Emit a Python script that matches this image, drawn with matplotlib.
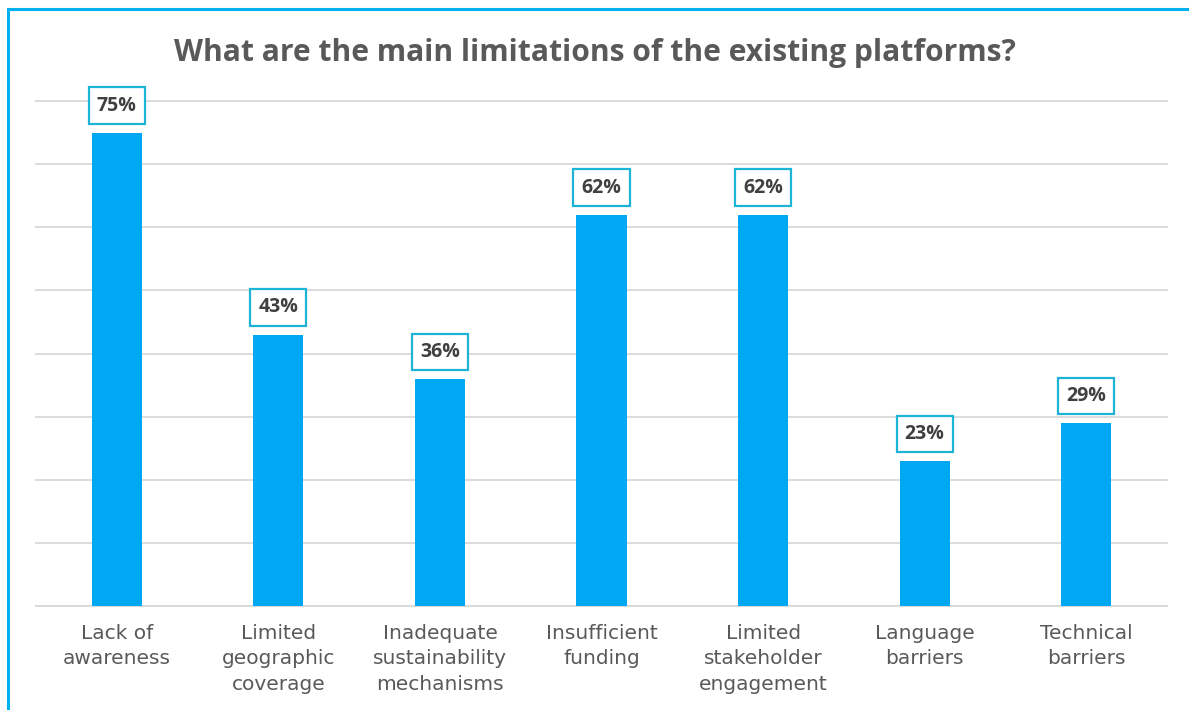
import matplotlib.pyplot as plt
from matplotlib.patches import Rectangle

categories = ["Lack of\nawareness", "Limited\ngeographic\ncoverage",
              "Inadequate\nsustainability\nmechanisms", "Insufficient\nfunding",
              "Limited\nstakeholder\nengagement", "Language\nbarriers",
              "Technical\nbarriers"]
values = [75, 43, 36, 62, 62, 23, 29]

bar_color = "#00A8F3"
grid_color = "#D9D9D9"
text_gray = "#595959"

fig = plt.figure(figsize=(11.89, 7.10), dpi=100)
ax = fig.add_axes([0.0303, 0.1465, 0.9512, 0.7112])

x = list(range(len(values)))
ax.bar(x, values, width=0.31, color=bar_color, zorder=3)

ax.set_xlim(-0.5, len(values) - 0.5)
ax.set_ylim(0, 80)
ax.set_yticks(range(0, 81, 10))
ax.yaxis.grid(True, color=grid_color, linewidth=1.3, zorder=0)
for gl in ax.get_ygridlines():
    gl.set_clip_on(False)
ax.tick_params(axis="y", length=0, labelleft=False)
ax.tick_params(axis="x", length=0, pad=13, labelcolor=text_gray)
for side in ["top", "right", "left"]:
    ax.spines[side].set_visible(False)
ax.spines["bottom"].set_color(grid_color)
ax.spines["bottom"].set_linewidth(1.3)

ax.set_xticks(x)
ax.set_xticklabels(categories, fontsize=14.5, color=text_gray,
                   family="DejaVu Sans", linespacing=1.42, va="top")

# value labels in outlined boxes above each bar
for xi, v in zip(x, values):
    ax.annotate(f"{v}%", xy=(xi, v), xytext=(0, 19.5), textcoords="offset points",
                ha="center", va="center", fontsize=14, fontweight="bold",
                color="#404040", family="Open Sans",
                bbox=dict(boxstyle="square,pad=0.42", fc="white",
                          ec="#1DB4D6", lw=1.6), zorder=4)

fig.text(0.5, 0.926, "What are the main limitations of the existing platforms?",
         ha="center", va="center", fontsize=21.6, fontweight="bold",
         color=text_gray, family="Open Sans")

# light blue frame around the chart area
fig.patches.append(Rectangle((0.0065, -0.1), 1.1, 1.088, transform=fig.transFigure,
                             fill=False, ec="#00B0F0", lw=2.2))

fig.savefig("out.png", dpi=100, facecolor="white")
